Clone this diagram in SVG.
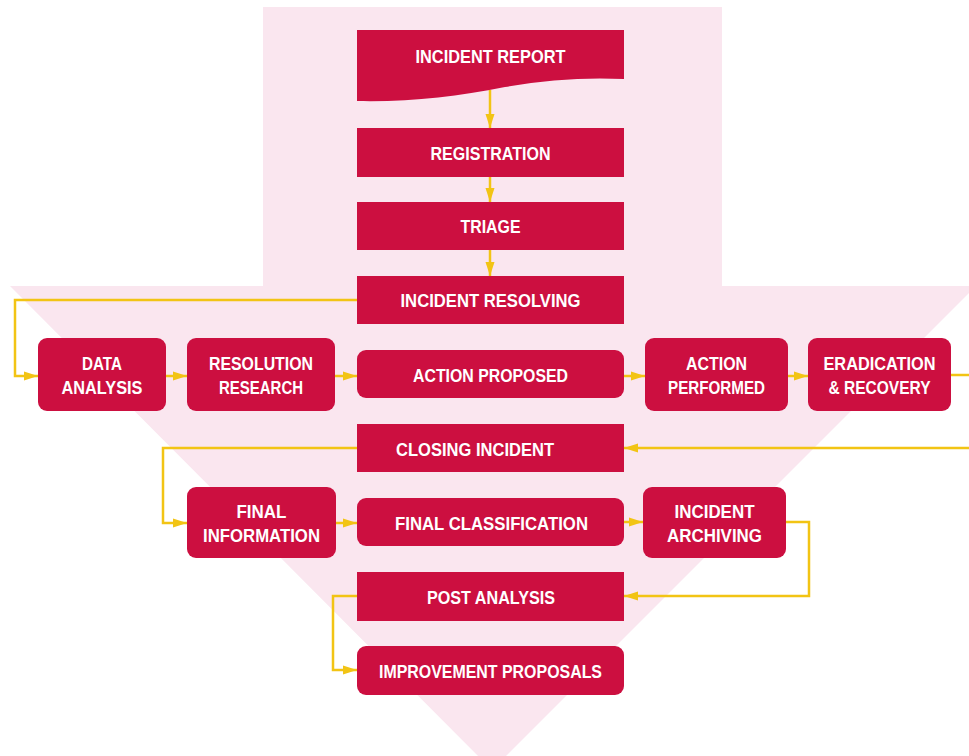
<svg xmlns="http://www.w3.org/2000/svg" width="969" height="756" viewBox="0 0 969 756">
<defs>
<style>
.n{fill:#cc0f40}
.t{font-family:"Liberation Sans",Arial,sans-serif;font-weight:bold;font-size:19px;fill:#ffffff;text-anchor:middle}
.c{fill:none;stroke:#f2c414;stroke-width:2.5;marker-end:url(#ah)}
</style>
<marker id="ah" markerUnits="userSpaceOnUse" markerWidth="14" markerHeight="10" viewBox="0 0 14 10" refX="14" refY="5" orient="auto">
<path d="M0,0.5 L14,5 L0,9.5 Z" fill="#f2c414"/>
</marker>
</defs>
<rect width="969" height="756" fill="#ffffff"/>
<path id="bg-arrow" d="M263,7 H722 V286 H976 L492,770 L10,286 H263 Z" fill="#fae6ef"/>

<g id="connectors">
<line class="c" x1="490" y1="90" x2="490" y2="128"/>
<line class="c" x1="490" y1="177" x2="490" y2="202"/>
<line class="c" x1="490" y1="250" x2="490" y2="276"/>
<polyline class="c" points="357,300 15,300 15,376 38,376"/>
<line class="c" x1="166" y1="376" x2="187" y2="376"/>
<line class="c" x1="335" y1="376" x2="357" y2="376"/>
<line class="c" x1="624" y1="376" x2="645" y2="376"/>
<line class="c" x1="788" y1="376" x2="808" y2="376"/>
<line x1="951" y1="375" x2="975" y2="375" stroke="#f2c414" stroke-width="2.5"/>
<line class="c" x1="975" y1="448" x2="624" y2="448"/>
<polyline class="c" points="357,448 163,448 163,523 187,523"/>
<line class="c" x1="336" y1="523" x2="357" y2="523"/>
<line class="c" x1="624" y1="522" x2="643" y2="522"/>
<polyline class="c" points="786,522 809,522 809,596 624,596"/>
<polyline class="c" points="357,596 333,596 333,670 357,670"/>
</g>

<g id="incident-report">
<path class="n" d="M357,30 H624 V79 C585,77 545,80 505,87 C455,97 410,102 357,101 Z"/>
<text class="t" x="490.5" y="63" textLength="150" lengthAdjust="spacingAndGlyphs">INCIDENT REPORT</text>
</g>
<g id="registration">
<rect class="n" x="357" y="128" width="267" height="49"/>
<text class="t" x="490.5" y="160" textLength="120" lengthAdjust="spacingAndGlyphs">REGISTRATION</text>
</g>
<g id="triage">
<rect class="n" x="357" y="202" width="267" height="48"/>
<text class="t" x="490.5" y="233" textLength="60" lengthAdjust="spacingAndGlyphs">TRIAGE</text>
</g>
<g id="incident-resolving">
<rect class="n" x="357" y="276" width="267" height="48"/>
<text class="t" x="490.5" y="307" textLength="180" lengthAdjust="spacingAndGlyphs">INCIDENT RESOLVING</text>
</g>
<g id="data-analysis">
<rect class="n" x="38" y="338" width="128" height="73" rx="9"/>
<text class="t" x="102" y="370" textLength="40" lengthAdjust="spacingAndGlyphs">DATA</text>
<text class="t" x="102" y="394" textLength="81" lengthAdjust="spacingAndGlyphs">ANALYSIS</text>
</g>
<g id="resolution-research">
<rect class="n" x="187" y="338" width="148" height="73" rx="9"/>
<text class="t" x="261" y="370" textLength="104" lengthAdjust="spacingAndGlyphs">RESOLUTION</text>
<text class="t" x="261" y="394" textLength="84" lengthAdjust="spacingAndGlyphs">RESEARCH</text>
</g>
<g id="action-proposed">
<rect class="n" x="357" y="350" width="267" height="48" rx="9"/>
<text class="t" x="490.5" y="382" textLength="155" lengthAdjust="spacingAndGlyphs">ACTION PROPOSED</text>
</g>
<g id="action-performed">
<rect class="n" x="645" y="338" width="143" height="73" rx="9"/>
<text class="t" x="716.5" y="370" textLength="61" lengthAdjust="spacingAndGlyphs">ACTION</text>
<text class="t" x="716.5" y="394" textLength="97" lengthAdjust="spacingAndGlyphs">PERFORMED</text>
</g>
<g id="eradication-recovery">
<rect class="n" x="808" y="338" width="143" height="73" rx="9"/>
<text class="t" x="879.5" y="370" textLength="112" lengthAdjust="spacingAndGlyphs">ERADICATION</text>
<text class="t" x="879.5" y="394" textLength="102" lengthAdjust="spacingAndGlyphs">&amp; RECOVERY</text>
</g>
<g id="closing-incident">
<rect class="n" x="357" y="424" width="267" height="48"/>
<text class="t" x="475" y="456" textLength="158" lengthAdjust="spacingAndGlyphs">CLOSING INCIDENT</text>
</g>
<g id="final-information">
<rect class="n" x="187" y="487" width="149" height="71" rx="9"/>
<text class="t" x="261.5" y="518" textLength="50" lengthAdjust="spacingAndGlyphs">FINAL</text>
<text class="t" x="261.5" y="542" textLength="117" lengthAdjust="spacingAndGlyphs">INFORMATION</text>
</g>
<g id="final-classification">
<rect class="n" x="357" y="498" width="267" height="48" rx="9"/>
<text class="t" x="491.5" y="530" textLength="193" lengthAdjust="spacingAndGlyphs">FINAL CLASSIFICATION</text>
</g>
<g id="incident-archiving">
<rect class="n" x="643" y="487" width="143" height="71" rx="9"/>
<text class="t" x="714.5" y="518" textLength="80" lengthAdjust="spacingAndGlyphs">INCIDENT</text>
<text class="t" x="714.5" y="542" textLength="95" lengthAdjust="spacingAndGlyphs">ARCHIVING</text>
</g>
<g id="post-analysis">
<rect class="n" x="357" y="572" width="267" height="49"/>
<text class="t" x="491" y="604" textLength="128" lengthAdjust="spacingAndGlyphs">POST ANALYSIS</text>
</g>
<g id="improvement-proposals">
<rect class="n" x="357" y="646" width="267" height="49" rx="9"/>
<text class="t" x="490.5" y="678" textLength="223" lengthAdjust="spacingAndGlyphs">IMPROVEMENT PROPOSALS</text>
</g>
</svg>
